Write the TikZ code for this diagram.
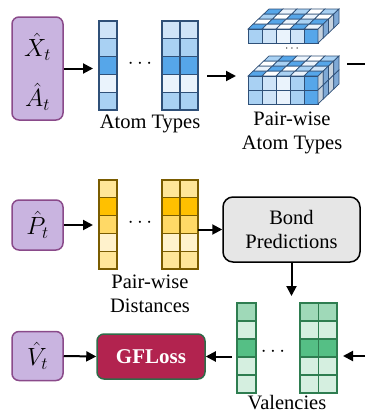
\documentclass[tikz,border=0pt]{standalone}
\usepackage{fontspec}
\setmainfont{Liberation Serif}
\usetikzlibrary{arrows.meta}
\definecolor{purpF}{HTML}{C9B4E0}
\definecolor{purpD}{HTML}{8A4A8A}
\definecolor{cbA}{HTML}{EAF3FC}
\definecolor{cbB}{HTML}{CFE4F8}
\definecolor{cbC}{HTML}{A9D1F3}
\definecolor{cbD}{HTML}{56A6E9}
\definecolor{cbE}{HTML}{3F86CE}
\definecolor{cbW}{HTML}{FFFFFF}
\definecolor{cbS}{HTML}{C6D2DE}
\definecolor{cbT}{HTML}{7FA9D6}
\definecolor{blueL}{HTML}{2F5078}
\definecolor{cyA}{HTML}{FFE699}
\definecolor{cyB}{HTML}{FFC000}
\definecolor{cyC}{HTML}{FFD966}
\definecolor{cyD}{HTML}{FFF2CC}
\definecolor{yelL}{HTML}{7A5C00}
\definecolor{cgA}{HTML}{9FD9B8}
\definecolor{cgB}{HTML}{D5EFE0}
\definecolor{cgC}{HTML}{55BF85}
\definecolor{grnL}{HTML}{2E7D50}
\definecolor{gfF}{HTML}{B2234F}
\definecolor{gfD}{HTML}{2E6B48}
\definecolor{bondF}{HTML}{E6E6E6}
\newcommand{\cellcolumn}[7]{% x, y, w, h, ncols, colours, border
  \foreach \cc [count=\r from 0] in {#6}{%
    \foreach \kk in {1,...,#5}{%
      \draw[draw=#7, line width=1.2pt, fill=\cc] ({#1+(\kk-1)*#3},{#2+\r*#4}) rectangle ++(#3,#4);
    }}}
\newcommand{\cubeblk}[4]{%
  \foreach \row [count=\k from 0] in {#2}{\foreach \cc [count=\i from 0] in \row{%
    \draw[cubeln, fill=cb\cc] ({248+\i*14+\k*5.25},{#1-\k*5}) -- ++(14,0) -- ++(5.25,-5) -- ++(-14,0) -- cycle;}}
  \foreach \row [count=\j from 0] in {#3}{\foreach \cc [count=\i from 0] in \row{%
    \draw[cubeln, fill=cb\cc] ({248+\i*14},{#1+\j*14}) rectangle ++(14,14);}}
  \foreach \row [count=\j from 0] in {#4}{\foreach \cc [count=\k from 0] in \row{%
    \draw[cubeln, fill=cb\cc] ({318+\k*5.25},{#1+\j*14-\k*5}) -- ++(5.25,-5) -- ++(0,14) -- ++(-5.25,5) -- cycle;}}
}
\begin{document}
\begin{tikzpicture}[x=1pt,y=-1pt,
  every node/.style={font=\fontsize{20.5}{24}\selectfont},
  inp/.style={draw=purpD, fill=purpF, line width=1.5pt, rounded corners=7pt, minimum width=51pt, inner sep=0pt, font=\fontsize{24}{28}\selectfont},
  mathtxt/.style={inner sep=0pt, font=\fontsize{24}{28}\selectfont},
  ghost/.style={inner sep=0pt, outer sep=0pt},
  arr/.style={line width=2pt, -{Triangle[length=10pt,width=10pt]}},
  cubeln/.style={draw=blueL, line width=0.7pt},
  lbl/.style={align=center, inner sep=0pt}]
\useasboundingbox (0,0) rectangle (365,413);

% ---------- row 1 ----------
\node[inp, minimum height=103pt] (px) at (37.5,68.5) {};
\node[mathtxt] (pxX) at (37.5,47) {$\hat{X}_t$};
\node[mathtxt] (pxA) at (37.5,97) {$\hat{A}_t$};
\cellcolumn{99}{21}{18}{17.8}{1}{cbB,cbC,cbD,cbA,cbC}{blueL}
\cellcolumn{162}{21}{18}{17.8}{2}{cbB,cbC,cbD,cbA,cbC}{blueL}
\node[ghost, minimum width=18pt, minimum height=89pt] (blue1) at (108,65.5) {};
\node[ghost, minimum width=36pt, minimum height=89pt] (blue2) at (180,65.5) {};
\node (dots1) at (140,64) {$\cdots$};
\node[lbl] (lat) at (150,124) {Atom Types};

% cubes
\cubeblk{29}{{D,A,W,D,A},{W,D,A,C,D},{C,W,D,A,W},{D,A,C,W,C}}{{C,B,A,B,D}}{{S,T,S,T}}
\cubeblk{76}{{D,W,C,A,D},{A,D,W,C,B},{W,C,D,A,D},{C,D,A,W,C}}{{C,B,A,C,D},{C,B,A,C,D}}{{S,T,S,T},{S,T,S,T}}
\node[ghost, minimum width=91pt, minimum height=95pt] (pairat) at (293.5,56.5) {};
\node[font=\fontsize{13}{14}\selectfont, inner sep=0pt] (dots0) at (292,48.5) {$\cdots$};
\node[lbl] (lpat) at (292,133) {Pair-wise\\Atom Types};

\draw[arr, shorten >=6pt] (px.east) -- (px.east -| blue1.west);
\draw[arr, shorten <=9pt, shorten >=12pt] ([yshift=-10.5pt]blue2.east) coordinate (a2s) -- (a2s -| pairat.west);
\coordinate (outA) at (365,64);
\draw[line width=2pt] ([xshift=8pt]pairat.east |- outA) -- (outA);

% ---------- row 2 ----------
\node[inp, minimum height=50pt] (pp) at (37.5,225) {$\hat{P}_t$};
\cellcolumn{99}{180}{18}{17.8}{1}{cyA,cyB,cyC,cyD,cyA}{yelL}
\cellcolumn{162}{180}{18}{17.8}{2}{cyA,cyB,cyC,cyD,cyA}{yelL}
\node[ghost, minimum width=18pt, minimum height=89pt] (yel1) at (108,224.5) {};
\node[ghost, minimum width=36pt, minimum height=89pt] (yel2) at (180,224.5) {};
\node (dots2) at (140,223) {$\cdots$};
\node[lbl] (ldist) at (150,294) {Pair-wise\\Distances};
\node[draw=black, fill=bondF, line width=1.5pt, rounded corners=10pt, minimum width=137pt, minimum height=65pt, align=center, inner sep=0pt] (bond) at (291.5,229.5) {Bond\\Predictions};

\draw[arr, shorten >=6pt] (pp.east) -- (pp.east -| yel1.west);
\draw[arr] (bond.west -| yel2.east) -- (bond.west);
\coordinate (bdown) at (291.5,296);
\draw[arr] (bond.south) -- (bdown);

% ---------- row 3 ----------
\node[inp, minimum height=49pt] (pv) at (37.5,356) {$\hat{V}_t$};
\node[draw=gfD, fill=gfF, line width=1.5pt, rounded corners=7pt, minimum width=108pt, minimum height=45pt, text=white, font=\fontsize{21}{24}\selectfont\bfseries] (gf) at (151,356.5) {GFLoss};
\cellcolumn{237}{303}{19}{18}{1}{cgA,cgB,cgC,cgB,cgB}{grnL}
\cellcolumn{300}{303}{18.5}{18}{2}{cgA,cgB,cgC,cgB,cgB}{grnL}
\node[ghost, minimum width=19pt, minimum height=90pt] (gr1) at (246.5,348) {};
\node[ghost, minimum width=37pt, minimum height=90pt] (gr2) at (318.5,348) {};
\node (dots3) at (273,352) {$\cdots$};
\node[lbl] (lval) at (287,403) {Valencies};

\draw[arr] (pv.east) -- (gf.west);
\draw[arr, shorten <=5pt] (gf.east -| gr1.west) -- (gf.east);
\coordinate (inR) at (365,356);
\draw[arr, shorten >=6pt] (inR) -- (inR -| gr2.east);
\end{tikzpicture}
\end{document}
